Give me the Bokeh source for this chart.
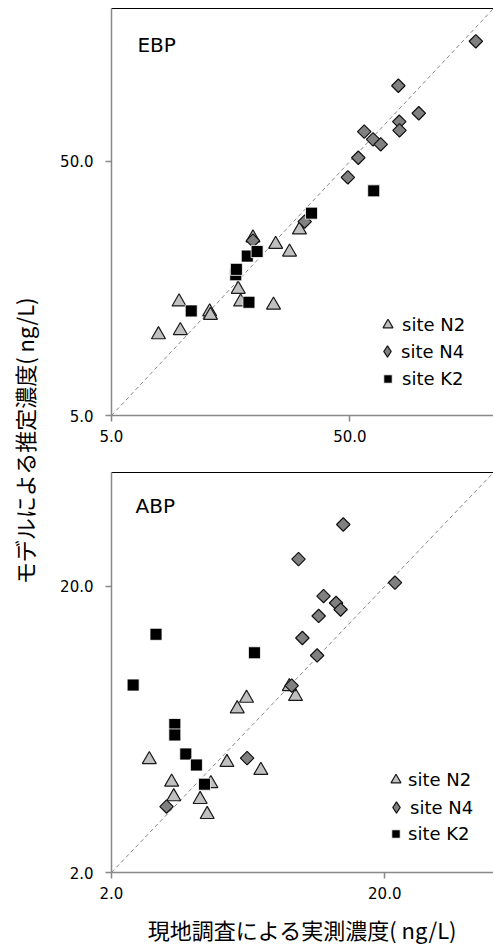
import math
from bokeh.plotting import figure
from bokeh.layouts import row, column
from bokeh.models import (FixedTicker, PrintfTickFormatter, LogAxis, Legend,
                          LegendItem, Range1d, Label)
from bokeh.embed import file_html
from bokeh.resources import INLINE

# ---------------- data ----------------
# EBP panel (top)
ebp_n2_x = [7.87, 9.60, 9.72, 12.9, 13.0, 17.0, 17.4, 19.6, 23.9, 24.4, 27.9, 30.7]
ebp_n2_y = [10.4, 14.0, 10.8, 12.8, 12.4, 15.7, 14.0, 25.0, 13.6, 23.6, 22.0, 26.9]
ebp_n4_x = [168.6, 79.8, 97.2, 80.5, 80.7, 57.4, 62.5, 67.3, 54.2, 49.0, 32.3, 19.6]
ebp_n4_y = [148.6, 99.3, 77.4, 71.7, 66.3, 65.5, 61.1, 58.4, 51.7, 43.3, 29.0, 24.4]
ebp_k2_x = [10.8, 18.85, 16.6, 16.7, 18.55, 20.4, 34.5, 62.9]
ebp_k2_y = [12.9, 13.95, 17.9, 18.8, 21.2, 22.1, 31.3, 38.3]

# ABP panel (bottom)
abp_n2_x = [2.75, 3.32, 3.38, 4.22, 4.48, 4.62, 5.29, 7.04, 5.77, 6.24, 9.43, 8.95]
abp_n2_y = [4.96, 4.14, 3.68, 3.60, 3.19, 4.09, 4.85, 4.55, 7.47, 8.13, 8.25, 8.93]
abp_n4_x = [14.1, 9.67, 21.8, 11.94, 13.27, 13.79, 11.46, 9.99, 11.31, 9.13, 6.27, 3.18]
abp_n4_y = [32.9, 24.9, 20.6, 18.5, 17.5, 16.6, 15.76, 13.2, 11.47, 9.0, 5.02, 3.40]
abp_k2_x = [2.91, 2.40, 6.67, 3.41, 3.41, 3.74, 4.09, 4.38]
abp_k2_y = [13.6, 9.04, 11.72, 6.58, 6.05, 5.19, 4.75, 4.07]

ebp_range = [5, 200]
abp_range = [2, 50]
ebp_ticks = [5, 50]
abp_ticks = [2, 20]

series_labels = ["site N2", "site N4", "site K2"]
x_label = "現地調査による実測濃度( ng/L)"
y_label = "モデルによる推定濃度( ng/L)"

NUM_FONT = "DejaVu Sans"
JP_FONT = "Noto Sans CJK JP"
AXIS_GRAY = "#888888"

LEFT_W = 40
TOTAL_W = 493

# legend glyph box size per series (marker drawn at 0.4 x box)
LEG_BOX = [25, 28, 21]
LEG_PITCH = 27


def make_panel(name, rng, ticks, n2x, n2y, n4x, n4y, k2x, k2y,
               height, mb_left, mb_top, mb_bottom, leg_cx, leg_text_x,
               leg_cy0, title_xy, xlabel=None):
    p = figure(width=TOTAL_W - LEFT_W, height=height,
               x_axis_type="log", y_axis_type="log",
               x_range=Range1d(rng[0], rng[1]), y_range=Range1d(rng[0], rng[1]),
               output_backend="svg", toolbar_location=None, title=None,
               min_border_left=mb_left, min_border_right=0,
               min_border_top=mb_top, min_border_bottom=mb_bottom)
    p.outline_line_color = None
    p.xgrid.visible = False
    p.ygrid.visible = False
    p.background_fill_color = "white"
    p.border_fill_color = "white"

    xa = p.below[0]
    ya = p.left[0]
    for ax in (xa, ya):
        ax.ticker = FixedTicker(ticks=ticks)
        ax.formatter = PrintfTickFormatter(format="%.1f")
        ax.axis_line_color = AXIS_GRAY
        ax.axis_line_width = 1.5
        ax.major_tick_line_color = AXIS_GRAY
        ax.major_tick_line_width = 1.5
        ax.major_tick_in = 0
        ax.major_tick_out = 6
        ax.minor_tick_line_color = None
        ax.major_label_text_font = NUM_FONT
        ax.major_label_text_font_size = "15px"
        ax.major_label_text_color = "black"
    ya.major_label_standoff = 12
    xa.major_label_standoff = 8

    if xlabel:
        xa.axis_label = xlabel
        xa.axis_label_text_font = JP_FONT
        xa.axis_label_text_font_size = "22px"
        xa.axis_label_text_font_style = "normal"
        xa.axis_label_text_color = "black"
        xa.axis_label_standoff = 11

    top = LogAxis(ticker=FixedTicker(ticks=[]), axis_line_color="black",
                  axis_line_width=1, major_tick_out=0, major_tick_in=0,
                  minor_tick_line_color=None, major_label_text_font_size="0px",
                  major_label_standoff=0)
    p.add_layout(top, "above")

    # 1:1 line
    p.line(rng, rng, line_dash="4 3", line_color=AXIS_GRAY, line_width=1)

    r1 = p.scatter(n2x, n2y, marker="triangle", size=14, fill_color="#c0c0c0",
                   line_color="#1a1a1a", line_width=1.2)
    # legend proxy for the diamond (legend markers ignore rotation);
    # drawn underneath the rotated squares, which cover it completely
    r2_leg = p.scatter(n4x, n4y, marker="diamond", size=8,
                       fill_color="#808080", line_color="#111111", line_width=1.2)
    r2 = p.scatter(n4x, n4y, marker="square", angle=math.pi / 4, size=9.5,
                   fill_color="#808080", line_color="#111111", line_width=1.2)
    r3 = p.scatter(k2x, k2y, marker="square", size=12, fill_color="black",
                   line_color="white", line_width=0.8)

    frame_left = LEFT_W + mb_left
    frame_bottom = mb_top + (height - mb_top - mb_bottom)
    for i, (lab, rend) in enumerate(zip(series_labels, [r1, r2_leg, r3])):
        g = LEG_BOX[i]
        cy = leg_cy0 + i * LEG_PITCH
        loc = (int(round(leg_cx - g / 2 - frame_left)),
               int(round(frame_bottom - (cy + g / 2))))
        leg = Legend(items=[LegendItem(label=lab, renderers=[rend])],
                     location=loc, glyph_width=g, glyph_height=g,
                     label_height=g, spacing=0, padding=0, margin=0,
                     label_standoff=int(round(leg_text_x - (leg_cx + g / 2))),
                     border_line_color=None, background_fill_alpha=0,
                     label_text_font=NUM_FONT, label_text_font_size="18px",
                     label_text_color="black")
        p.add_layout(leg)

    p.add_layout(Label(x=title_xy[0], y=title_xy[1], text=name,
                       text_font=NUM_FONT, text_font_size="20px",
                       text_baseline="middle", text_align="left",
                       text_color="black"))
    return p


p_top = make_panel("EBP", ebp_range, ebp_ticks,
                   ebp_n2_x, ebp_n2_y, ebp_n4_x, ebp_n4_y, ebp_k2_x, ebp_k2_y,
                   height=455, mb_left=71, mb_top=8, mb_bottom=40,
                   leg_cx=387, leg_text_x=401, leg_cy0=324,
                   title_xy=(6.42, 143.7))

p_bot = make_panel("ABP", abp_range, abp_ticks,
                   abp_n2_x, abp_n2_y, abp_n4_x, abp_n4_y, abp_k2_x, abp_k2_y,
                   height=492, mb_left=67, mb_top=17, mb_bottom=70,
                   leg_cx=392, leg_text_x=404, leg_cy0=785 - 455,
                   title_xy=(2.45, 38.3), xlabel=x_label)

lf = figure(width=LEFT_W, height=947, x_range=Range1d(0, LEFT_W),
            y_range=Range1d(0, 947), output_backend="svg",
            toolbar_location=None, title=None, min_border=0,
            x_axis_location=None, y_axis_location=None)
lf.outline_line_color = None
lf.xgrid.visible = False
lf.ygrid.visible = False
lf.add_layout(Label(x=23, y=947 - 440, text=y_label, angle=math.pi / 2,
                    text_align="center", text_baseline="middle",
                    text_font=JP_FONT, text_font_size="22px",
                    text_color="black"))

layout = row(lf, column(p_top, p_bot))

open("out.html", "w").write(file_html(layout, INLINE))
